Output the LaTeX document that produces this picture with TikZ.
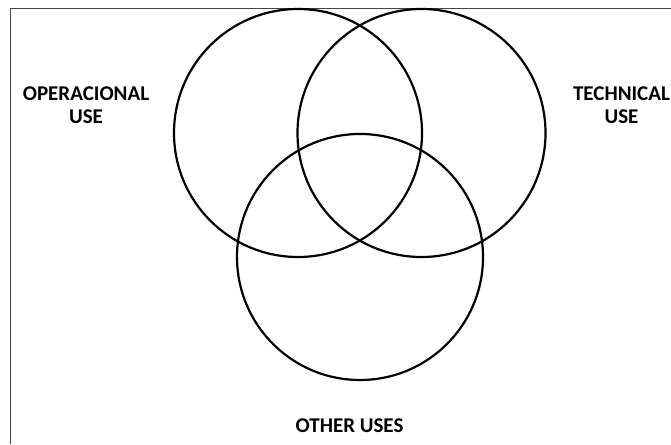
\documentclass[tikz,border=0pt]{standalone}
\usepackage{fontspec}
\setmainfont{Carlito}
\usepackage{tikz}
\usetikzlibrary{positioning}
\definecolor{framegray}{RGB}{70,70,70}

\begin{document}
\begin{tikzpicture}[
    x=1pt, y=-1pt,
    usecircle/.style={draw, circle, line width=2.2pt, minimum size=248pt,
                      inner sep=0pt},
    usetag/.style={font=\fontsize{21}{23.6}\selectfont\bfseries,
                   align=center, inner sep=0pt},
    edge/.style={framegray, line width=1.3pt}
  ]
    \useasboundingbox (0,0) rectangle (671,444);

    %% FRAME
    \coordinate (corner) at (10.5,8.5);
    \coordinate (topend) at (671,8.5);
    \coordinate (leftend) at (10.5,444);
    \draw[edge] (topend) -- (corner) -- (leftend);

    %% CIRCLES
    \node[usecircle] (operacional) at (298,133) {};
    \node[usecircle] (technical) at (421.5,133) {};
    \node[usecircle, minimum size=246pt] (other) at (360,257) {};

    %% LABELS
    \node[usetag] (operlabel) at (86,105) {OPERACIONAL\\USE};
    \node[usetag] (techlabel) at (621.5,105) {TECHNICAL\\USE};
    \node[usetag] (otherlabel) at (349.5,425.5) {OTHER USES};
  \end{tikzpicture}
\end{document}
